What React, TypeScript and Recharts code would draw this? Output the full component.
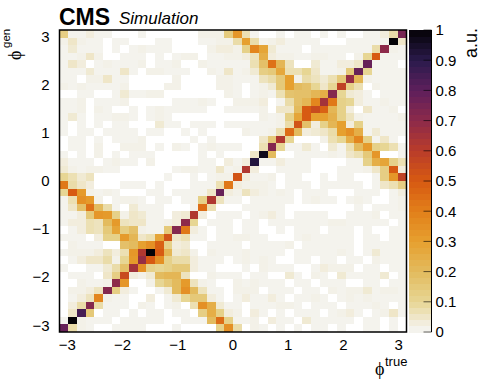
import { ReferenceArea, Scatter, ScatterChart, XAxis, YAxis } from "recharts"

// bin centres, phi true left to right, phi gen top to bottom
const phiTrueBins = [
  -3.063, -2.906, -2.749, -2.592, -2.435, -2.278, -2.121, -1.964, -1.807, -1.649,
  -1.492, -1.335, -1.178, -1.021, -0.864, -0.707, -0.55, -0.393, -0.236, -0.079,
  0.079, 0.236, 0.393, 0.55, 0.707, 0.864, 1.021, 1.178, 1.335, 1.492,
  1.649, 1.807, 1.964, 2.121, 2.278, 2.435, 2.592, 2.749, 2.906, 3.063,
]
const phiGenBins = [...phiTrueBins].reverse()

// response in percent of the peak, one row per phi gen bin
const response = [
  [13,1,1,3,1,1,0,0,0,1,0,0,0,0,0,0,2,2,2,14,33,7,1,0,0,1,0,1,1,0,1,0,1,0,0,1,1,3,8,75],
  [2,5,2,1,1,0,1,1,0,0,0,1,1,0,0,0,1,1,2,2,8,30,8,1,2,3,1,1,1,1,0,0,0,1,1,1,1,1,100,5],
  [1,4,1,1,1,0,1,0,1,2,1,1,1,0,0,0,0,2,3,3,2,12,38,28,4,1,1,1,0,1,1,1,1,1,1,1,8,70,2,1],
  [1,1,2,5,2,0,0,1,1,1,0,1,0,1,2,2,0,1,1,2,2,3,6,25,3,2,2,1,1,2,2,1,1,0,2,10,50,1,1,1],
  [1,5,3,0,1,2,1,1,1,2,0,1,1,2,0,0,2,1,1,1,1,1,7,18,44,22,6,0,0,4,1,1,3,3,5,78,1,1,1,0],
  [1,1,1,4,1,1,1,5,1,0,2,2,1,1,1,0,0,2,1,5,1,2,4,13,15,27,7,7,10,5,1,1,2,15,78,10,1,1,1,1],
  [1,1,0,2,2,5,1,1,0,0,0,0,0,2,0,0,0,0,2,2,1,1,1,6,8,15,30,2,8,6,4,7,15,68,22,2,1,1,1,1],
  [2,1,2,1,1,1,1,2,0,0,0,0,2,2,0,0,0,0,2,2,1,0,1,2,4,15,30,20,18,10,5,10,58,12,7,0,2,1,1,1],
  [0,0,1,1,0,0,1,4,1,1,2,2,0,0,0,0,0,0,0,2,1,0,1,2,1,7,17,18,18,22,25,72,10,4,3,1,0,1,1,1],
  [1,1,2,0,1,1,1,2,0,0,0,0,0,1,1,1,2,1,0,0,2,2,2,3,0,1,8,18,22,38,65,42,12,10,3,1,1,2,1,1],
  [1,1,2,0,2,1,0,0,1,0,1,2,1,1,1,1,1,0,0,1,1,1,1,2,0,5,5,20,50,55,48,22,12,3,0,5,1,1,2,0],
  [1,4,1,0,1,1,2,2,1,0,1,2,1,0,0,0,0,0,0,0,0,0,0,2,1,2,12,28,50,30,30,24,12,6,2,1,1,1,1,2],
  [1,0,1,0,1,0,1,1,0,0,0,4,1,1,0,1,1,1,0,1,1,1,1,1,1,2,8,52,18,3,12,22,30,3,12,1,1,1,1,1],
  [1,0,1,1,0,1,1,1,1,0,1,1,0,0,1,0,1,0,0,0,0,2,1,1,2,7,45,20,3,4,5,8,30,35,25,1,4,1,1,1],
  [0,1,1,0,1,0,1,1,1,2,0,0,0,0,0,1,0,1,0,0,0,0,0,5,15,62,10,0,0,0,2,7,10,25,38,12,1,5,1,0],
  [0,1,1,0,2,0,0,2,2,2,0,1,0,2,1,0,1,2,1,1,1,0,0,7,72,10,1,1,4,1,0,4,1,7,20,32,12,10,7,1],
  [1,0,1,0,2,0,1,0,1,1,1,0,0,0,0,0,1,0,1,0,0,0,5,97,20,0,0,1,1,1,1,2,1,5,7,15,33,0,0,1],
  [3,1,1,1,0,1,2,1,1,0,2,0,0,0,0,0,1,1,0,3,1,3,92,1,1,3,1,1,1,0,0,0,0,1,1,12,25,28,12,7],
  [4,2,1,2,2,1,1,0,0,0,0,0,0,1,2,2,1,1,5,1,2,62,3,0,0,1,1,1,1,0,0,0,1,1,1,2,5,13,50,3],
  [10,7,4,6,0,0,0,0,0,0,0,0,1,0,0,1,0,1,2,2,52,3,1,1,2,0,1,1,0,0,1,0,1,1,0,0,1,13,33,58],
  [42,8,5,3,0,0,0,1,1,1,0,1,0,0,0,1,1,1,7,42,3,2,2,2,1,0,1,1,1,0,1,1,1,1,1,0,1,5,7,13],
  [10,50,32,2,1,2,1,0,0,0,1,1,0,1,1,1,1,5,78,3,2,6,3,2,1,2,1,0,1,1,1,0,0,0,1,1,1,0,1,3],
  [1,7,35,32,2,0,1,2,2,1,0,1,1,0,1,1,12,62,6,1,1,0,1,1,1,1,1,0,1,2,1,1,0,1,2,1,0,0,1,2],
  [1,5,18,44,20,8,1,0,4,1,1,1,0,0,0,1,45,7,0,0,0,1,1,1,1,1,0,0,0,0,0,0,0,0,1,0,1,1,1,2],
  [1,1,3,15,33,32,12,2,5,4,1,1,0,3,4,62,3,0,1,1,1,0,1,2,3,1,0,1,1,1,1,0,0,1,1,1,2,0,1,1],
  [1,3,3,7,6,20,32,6,5,5,1,1,2,3,70,10,0,1,1,1,0,1,1,0,1,1,1,1,1,1,1,2,2,1,1,1,1,1,0,1],
  [0,1,3,7,6,15,28,13,18,2,1,1,15,72,42,3,1,0,1,1,0,1,1,0,0,1,0,1,1,1,0,1,1,1,0,1,0,0,1,1],
  [1,1,1,0,3,12,12,32,22,5,7,28,52,5,7,1,1,0,1,1,2,2,1,1,0,0,0,1,2,1,1,1,1,1,0,1,1,0,1,1],
  [0,2,1,1,1,0,0,18,20,30,35,48,12,3,4,0,0,1,1,1,1,0,1,1,1,1,2,0,1,1,1,1,1,1,0,1,1,1,1,1],
  [1,2,2,2,3,6,3,7,33,62,100,50,22,4,5,2,0,2,1,1,1,2,1,1,1,1,0,1,1,1,1,1,2,1,0,1,4,1,1,1],
  [0,1,3,5,5,8,2,10,32,68,50,35,12,8,8,3,1,1,1,0,1,2,1,2,1,0,0,1,1,0,1,1,0,1,1,0,2,1,1,1],
  [1,0,0,1,1,4,8,18,65,35,12,10,12,15,15,3,1,1,0,0,0,1,0,2,1,1,1,0,0,1,3,2,2,2,0,1,1,0,1,1],
  [0,1,1,1,0,5,13,55,3,2,4,20,22,22,6,0,0,2,1,1,1,0,1,1,0,0,4,1,0,2,1,0,4,1,1,1,1,4,0,1],
  [0,0,2,1,1,2,70,33,0,0,2,10,15,20,32,6,2,1,0,0,2,1,2,1,1,1,0,1,1,0,1,1,1,0,0,1,1,0,1,1],
  [0,2,2,3,6,72,13,3,1,0,0,1,4,20,35,20,6,1,1,0,2,2,2,0,1,1,1,0,1,1,0,2,1,2,2,4,1,2,2,1],
  [0,1,3,6,38,2,1,1,0,0,3,0,1,4,10,15,15,3,1,0,1,3,1,1,3,1,0,1,1,2,1,0,1,2,1,2,1,1,1,1],
  [0,3,8,72,8,1,1,1,0,2,1,0,1,2,0,7,35,25,4,1,1,0,1,1,1,2,2,1,0,1,1,1,0,1,1,1,2,1,0,1],
  [0,5,85,15,0,1,1,0,1,0,1,1,0,1,1,0,13,25,12,3,2,0,3,1,0,1,0,1,1,1,0,1,2,3,1,0,1,2,5,1],
  [1,100,2,1,1,1,0,1,1,1,1,1,0,0,1,1,1,20,45,12,1,1,2,0,3,1,1,0,4,1,1,1,1,1,0,1,1,0,1,0],
  [78,8,2,1,0,0,1,1,1,1,0,0,0,1,0,0,0,0,12,35,8,0,2,1,0,1,0,1,0,1,1,0,1,0,0,1,1,0,1,0],
]

const xTicks = [-3, -2, -1, 0, 1, 2, 3]
const yTicks = [-3, -2, -1, 0, 1, 2, 3]
const barTicks = [0, 0.1, 0.2, 0.3, 0.4, 0.5, 0.6, 0.7, 0.8, 0.9, 1]
const barLevels = [
  0.01, 0.03, 0.05, 0.07, 0.09, 0.11, 0.13, 0.15, 0.17, 0.19, 0.21, 0.23, 0.25, 0.27, 0.29, 0.31, 0.33,
  0.35, 0.37, 0.39, 0.41, 0.43, 0.45, 0.47, 0.49, 0.51, 0.53, 0.55, 0.57, 0.59, 0.61, 0.63, 0.65, 0.67,
  0.69, 0.71, 0.73, 0.75, 0.77, 0.79, 0.81, 0.83, 0.85, 0.87, 0.89, 0.91, 0.93, 0.95, 0.97, 0.99,
]
const stopLevels = [0, 0.02, 0.05, 0.1, 0.2, 0.3, 0.4, 0.5, 0.6, 0.7, 0.8, 0.9, 1]
const stopColors = [
  "#f5f5f2", "#f3f1e8", "#efe6c8", "#e7d694", "#e3bb5e", "#e6a02f", "#e2801a", "#d75a12",
  "#b93c2a", "#8d2a4a", "#5e1f5c", "#2b1a4c", "#050307",
]

const FONT = "'Liberation Sans', Arial, sans-serif"
const W = 498
const H = 382
const PLOT = { left: 59.5, top: 30, width: 347, height: 302 }
const PLOT_BOTTOM = H - PLOT.top - PLOT.height
const BAR_LEFT = 408.5
const BAR_W = 23
const BAR_AXIS_W = 60
const Y_AXIS_W = 40
const X_AXIS_H = 30
const CELL_W = PLOT.width / 40
const CELL_H = PLOT.height / 40
const BAR_H = PLOT.height / barLevels.length
const PI = 3.14159

const layer = { position: "absolute", left: 0, top: 0 } as const

function hexToRgb(hex: string) {
  return [1, 3, 5].map((i) => parseInt(hex.slice(i, i + 2), 16))
}

function levelColor(v: number) {
  let i = stopLevels.findIndex((s) => v <= s) - 1
  if (i < 0) i = 0
  const a = hexToRgb(stopColors[i])
  const b = hexToRgb(stopColors[i + 1])
  const t = (v - stopLevels[i]) / (stopLevels[i + 1] - stopLevels[i])
  return `rgb(${a.map((c, k) => Math.round(c + (b[k] - c) * t)).join(",")})`
}

const cells = response.flatMap((row, r) =>
  row
    .map((v, c) => ({ phiTrue: phiTrueBins[c], phiGen: phiGenBins[r], value: v / 100 }))
    .filter((d) => d.value > 0),
)
const barData = barLevels.map((level) => ({ x: 0.5, level }))

function HeatCell(props: any) {
  return (
    <rect
      x={props.cx - CELL_W / 2}
      y={props.cy - CELL_H / 2}
      width={CELL_W}
      height={CELL_H}
      fill={levelColor(props.payload.value)}
      shapeRendering="crispEdges"
    />
  )
}

function BarCell(props: any) {
  return (
    <rect
      x={BAR_LEFT}
      y={props.cy - BAR_H / 2}
      width={BAR_W}
      height={BAR_H + 0.5}
      fill={levelColor(props.payload.level)}
      shapeRendering="crispEdges"
    />
  )
}

const NoShape = () => <g />

const minus = (v: number) => String(v).replace("-", "\u2212")

export default function App() {
  return (
    <div style={{ ...layer, width: W, height: H, background: "#fff", overflow: "hidden" }}>
      <div style={layer}>
        <ScatterChart
          width={W}
          height={H}
          margin={{
            left: PLOT.left - Y_AXIS_W,
            top: PLOT.top,
            right: W - PLOT.left - PLOT.width,
            bottom: PLOT_BOTTOM - X_AXIS_H,
          }}
        >
          <XAxis
            type="number"
            dataKey="phiTrue"
            domain={[-PI, PI]}
            ticks={xTicks}
            tickFormatter={minus}
            tickLine={false}
            axisLine={false}
            tickMargin={1}
            height={X_AXIS_H}
            allowDataOverflow
            tick={{ fill: "#000", fontSize: 15, fontFamily: FONT }}
          />
          <YAxis
            type="number"
            dataKey="phiGen"
            domain={[-PI, PI]}
            ticks={yTicks}
            tickFormatter={minus}
            tickLine={false}
            axisLine={false}
            tickMargin={4}
            width={Y_AXIS_W}
            allowDataOverflow
            tick={{ fill: "#000", fontSize: 15, fontFamily: FONT }}
          />
          <Scatter data={cells} shape={HeatCell} isAnimationActive={false} />
        </ScatterChart>
      </div>
      {/* frame has to sit above the cells */}
      <div style={layer}>
        <ScatterChart
          width={W}
          height={H}
          margin={{ left: PLOT.left, top: PLOT.top, right: W - PLOT.left - PLOT.width, bottom: PLOT_BOTTOM }}
        >
          <XAxis type="number" dataKey="phiTrue" domain={[-PI, PI]} hide />
          <YAxis type="number" dataKey="phiGen" domain={[-PI, PI]} hide />
          <Scatter data={cells} shape={NoShape} isAnimationActive={false} />
          <ReferenceArea x1={-PI} x2={PI} y1={-PI} y2={PI} fill="none" stroke="#000" strokeWidth={1.5} fillOpacity={0} ifOverflow="visible" />
        </ScatterChart>
      </div>
      <div style={layer}>
        <ScatterChart
          width={W}
          height={H}
          margin={{ left: BAR_LEFT, top: PLOT.top, right: W - BAR_LEFT - BAR_W, bottom: PLOT_BOTTOM }}
        >
          <XAxis type="number" dataKey="x" domain={[0, 1]} hide />
          <YAxis type="number" dataKey="level" domain={[0, 1]} hide />
          <Scatter data={barData} shape={BarCell} isAnimationActive={false} />
        </ScatterChart>
      </div>
      {/* colour bar axis on top of the bands, its ticks point inwards */}
      <div style={layer}>
        <ScatterChart
          width={W}
          height={H}
          margin={{ left: BAR_LEFT, top: PLOT.top, right: W - BAR_LEFT - BAR_W - BAR_AXIS_W, bottom: PLOT_BOTTOM }}
        >
          <XAxis type="number" dataKey="x" domain={[0, 1]} hide />
          <YAxis
            type="number"
            dataKey="level"
            orientation="right"
            domain={[0, 1]}
            ticks={barTicks}
            interval={0}
            tickLine={{ stroke: "#000", strokeOpacity: 0.6 }}
            tickSize={-8}
            tickMargin={12}
            axisLine={{ stroke: "#000" }}
            width={BAR_AXIS_W}
            tick={{ fill: "#000", fontSize: 15, fontFamily: FONT, textAnchor: "start" }}
          />
          <Scatter data={barData} shape={NoShape} isAnimationActive={false} />
        </ScatterChart>
      </div>
      <svg width={W} height={H} style={layer} fontFamily={FONT}>
        <text x={59} y={25} fontSize={23} fontWeight="bold">CMS</text>
        <text x={119} y={24} fontSize={17} fontStyle="italic">Simulation</text>
        <text x={375} y={375} fontSize={18} fontFamily="'Liberation Serif', serif">{"\u03d5"}</text>
        <text x={385} y={366} fontSize={13}>true</text>
        <g transform="translate(21,60) rotate(-90)">
          <text x={0} y={0} fontSize={18} fontFamily="'Liberation Serif', serif">{"\u03d5"}</text>
          <text x={12} y={-11} fontSize={11.5}>gen</text>
        </g>
        <text transform="translate(477,58) rotate(-90)" fontSize={18}>a.u.</text>
      </svg>
    </div>
  )
}
